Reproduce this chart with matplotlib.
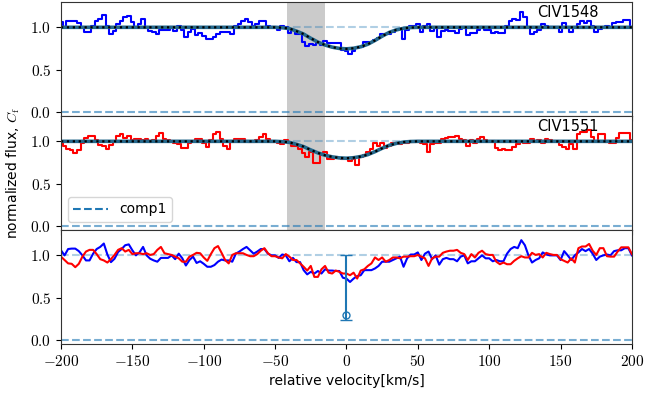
import numpy as np
import matplotlib
matplotlib.use('Agg')
import matplotlib.pyplot as plt
from matplotlib.ticker import FuncFormatter, MultipleLocator

plt.rcParams['mathtext.fontset'] = 'cm'

# velocity grid of the spectra (km/s)
velocity = np.arange(-200, 200.1, 2.5)

flux_1548 = [
    1.06, 1.0, 1.075, 1.08, 1.08, 1.05, 1.0, 0.94, 0.94, 1.02,
    1.075, 1.10, 1.14, 1.01, 0.92, 0.96, 1.04, 1.075, 1.12, 1.13,
    1.06, 1.0, 1.035, 1.10, 1.0, 0.96, 0.94, 0.925, 0.97, 0.97,
    0.97, 1.0, 0.955, 1.02, 0.965, 0.88, 0.945, 0.985, 0.91, 0.93,
    0.90, 0.865, 0.865, 0.885, 0.925, 0.95, 0.94, 0.94, 0.925, 1.02,
    1.045, 1.075, 1.10, 1.06, 1.02, 1.045, 1.075, 1.075, 1.02, 1.0,
    1.0, 0.97, 1.01, 1.0, 0.93, 0.97, 0.92, 0.92, 0.825, 0.775,
    0.805, 0.785, 0.815, 0.785, 0.835, 0.82, 0.82, 0.815, 0.815, 0.735,
    0.725, 0.685, 0.725, 0.755, 0.765, 0.825, 0.825, 0.825, 0.845, 0.875,
    0.925, 0.925, 0.925, 0.945, 0.965, 0.985, 0.865, 0.965, 1.01, 1.01,
    1.035, 0.945, 1.02, 1.045, 0.955, 1.0, 0.89, 0.955, 0.97, 0.955,
    0.955, 0.93, 0.985, 1.0, 0.905, 0.93, 0.93, 0.965, 1.0, 0.965,
    0.965, 0.93, 0.945, 0.93, 0.93, 1.02, 1.075, 1.10, 1.085, 1.18,
    1.12, 1.0, 0.915, 0.945, 0.965, 1.035, 1.01, 1.0, 1.0, 1.0,
    0.945, 1.05, 1.0, 0.945, 1.0, 1.035, 1.075, 1.05, 1.075, 1.02,
    0.945, 0.985, 1.0, 1.01, 1.0, 1.05, 1.06, 1.06, 1.085, 1.085,
    1.0,
]

flux_1551 = [
    0.985, 0.945, 0.905, 0.90, 0.86, 0.90, 0.985, 1.045, 1.065, 1.065,
    1.015, 0.955, 0.94, 0.915, 0.955, 1.005, 1.065, 1.085, 1.045, 1.065,
    1.015, 1.025, 1.025, 1.015, 1.025, 1.005, 1.015, 1.065, 1.10, 1.025,
    1.015, 1.005, 0.985, 0.965, 0.925, 0.925, 0.985, 1.005, 1.03, 1.025,
    0.975, 0.935, 1.015, 1.085, 1.11, 1.03, 0.945, 0.905, 1.005, 1.025,
    1.025, 1.025, 1.005, 0.99, 0.99, 1.015, 1.055, 1.085, 1.025, 0.99,
    0.99, 0.975, 0.965, 1.015, 0.985, 0.945, 0.945, 0.905, 0.865, 0.82,
    0.875, 0.745, 0.745, 0.835, 0.875, 0.795, 0.785, 0.82, 0.805, 0.785,
    0.785, 0.765, 0.795, 0.725, 0.82, 0.835, 0.875, 0.905, 0.975, 0.945,
    0.975, 0.925, 0.945, 0.975, 0.975, 0.965, 0.985, 0.985, 0.99, 0.99,
    1.005, 0.985, 0.965, 0.875, 0.965, 0.985, 0.985, 1.03, 1.045, 1.055,
    1.055, 1.065, 1.03, 1.015, 0.945, 1.015, 0.975, 1.03, 1.055, 1.015,
    1.005, 1.005, 0.925, 0.895, 0.915, 0.895, 0.895, 0.935, 0.965, 0.99,
    0.975, 0.975, 1.03, 1.005, 1.015, 0.975, 1.03, 1.015, 1.005, 1.005,
    0.955, 0.935, 0.915, 0.965, 0.915, 1.085, 1.105, 1.105, 1.135, 1.055,
    1.005, 1.085, 1.085, 0.99, 0.985, 0.985, 1.045, 1.095, 1.095, 1.095,
    1.015,
]

# fitted model profiles
model_v = [-200, -50, -45, -40, -35, -30, -25, -20, -15, -10, -5, 0,
           5, 10, 15, 20, 25, 30, 35, 40, 45, 50, 200]
model_1548 = [1.0, 1.0, 0.995, 0.985, 0.955, 0.92, 0.87, 0.825, 0.79, 0.765,
              0.75, 0.745, 0.752, 0.77, 0.80, 0.845, 0.895, 0.94, 0.97, 0.988,
              0.997, 1.0, 1.0]
model_1551 = [1.0, 1.0, 0.996, 0.988, 0.965, 0.937, 0.898, 0.863, 0.835, 0.816,
              0.804, 0.80, 0.806, 0.82, 0.843, 0.878, 0.918, 0.953, 0.976, 0.991,
              0.998, 1.0, 1.0]

lines = ['CIV1548', 'CIV1551']
line_colours = ['b', 'r']

# shaded velocity window
mask_lo, mask_hi = -42, -15

# covering fraction of comp1
cf_v = 0
cf_val = 0.29
cf_err_lo = 0.06
cf_err_hi = 0.71


def x_fmt(x, pos):
    return f'${int(round(x))}$'


def y_fmt(y, pos):
    if abs(y) < 1e-9:
        y = 0.0
    return f'${y:.1f}$'


fig, axes = plt.subplots(3, 1, sharex=True, figsize=(6.68, 3.95), dpi=100)
fig.subplots_adjust(left=0.0913, right=0.946, top=0.995, bottom=0.129, hspace=0)

models = [model_1548, model_1551]
fluxes = [flux_1548, flux_1551]

for i, ax in enumerate(axes[:2]):
    ax.axvspan(mask_lo, mask_hi, color='0.6', alpha=0.5, lw=0)
    ax.axhline(1.0, ls='--', color='C0', alpha=0.35, lw=1.5)
    ax.axhline(0.0, ls='--', color='C0', alpha=0.6, lw=1.5)
    ax.plot(velocity, fluxes[i], drawstyle='steps-mid', color=line_colours[i], lw=1.5)
    ax.plot(model_v, models[i], color='#24688c', lw=2.6)
    ax.plot(model_v, models[i], 'k:', lw=1.6)
    ax.text(155, 1.17, lines[i], ha='center', va='center', fontsize=10.5)

# legend entry for component
axes[1].plot([], [], ls='--', color='C0', lw=1.5, label='comp1')
axes[1].legend(loc='lower left', fontsize=10, handlelength=2.5,
               bbox_to_anchor=(0.0, 0.01))
axes[1].set_ylabel(r'normalized flux, $C_\mathrm{f}$', fontsize=10, labelpad=6)

ax = axes[2]
ax.axhline(1.0, ls='--', color='C0', alpha=0.35, lw=1.5)
ax.axhline(0.0, ls='--', color='C0', alpha=0.6, lw=1.5)
ax.plot(velocity, flux_1548, color='b', lw=1.5)
ax.plot(velocity, flux_1551, color='r', lw=1.5)
ax.errorbar([cf_v], [cf_val], yerr=[[cf_err_lo], [cf_err_hi]], fmt='o',
            mfc='none', color='C0', capsize=4, ms=5, lw=1.5)
ax.set_xlabel('relative velocity[km/s]', fontsize=10)

for ax in axes:
    ax.set_ylim(-0.05, 1.3)
    ax.set_xlim(-200, 200)
    ax.yaxis.set_major_locator(MultipleLocator(0.5))
    ax.xaxis.set_major_locator(MultipleLocator(50))
    ax.yaxis.set_major_formatter(FuncFormatter(y_fmt))
    ax.xaxis.set_major_formatter(FuncFormatter(x_fmt))
    ax.tick_params(labelsize=11)
    for s in ax.spines.values():
        s.set_color('0.2')

plt.savefig('out.png', dpi=100)
